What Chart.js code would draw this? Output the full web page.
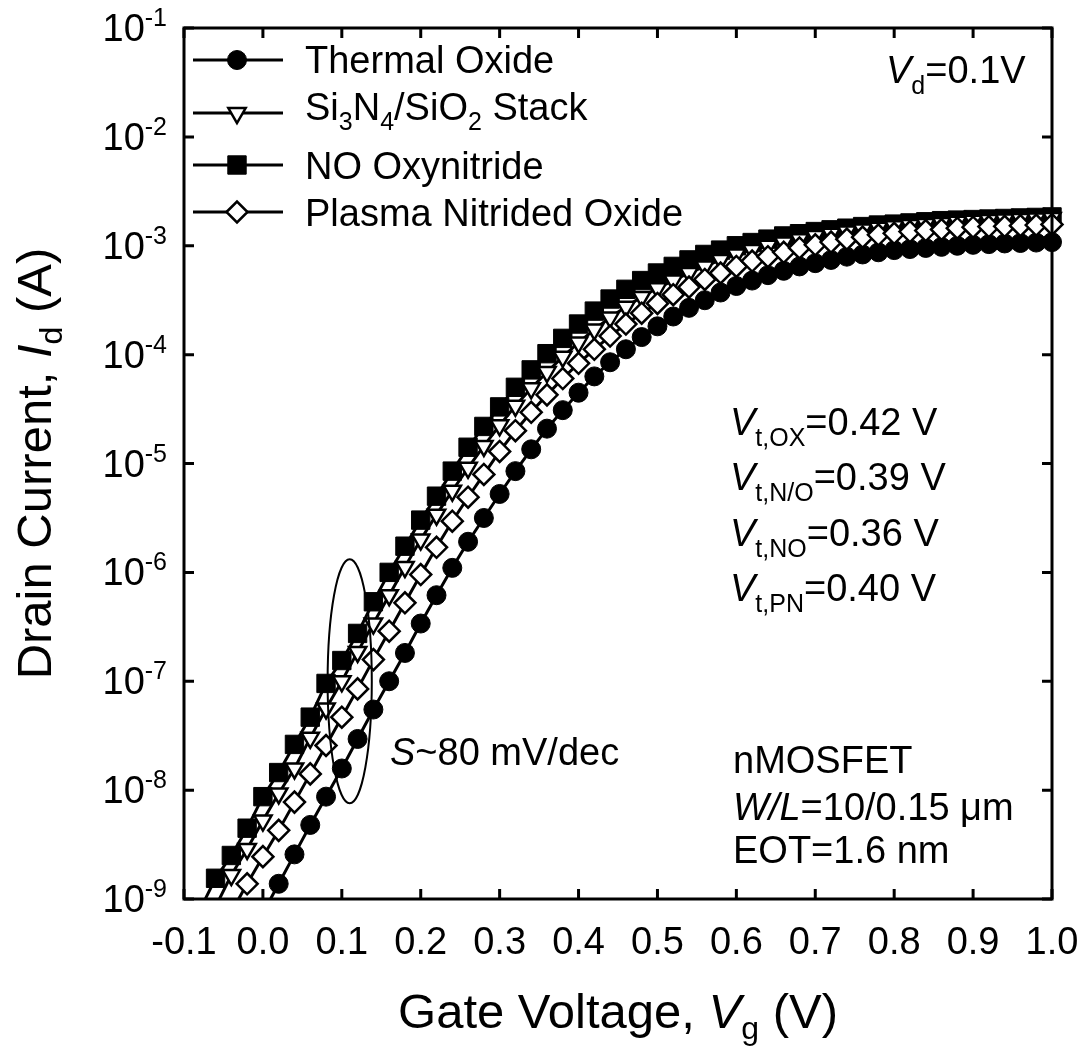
<!DOCTYPE html>
<html>
<head>
<meta charset="utf-8">
<script src="https://cdn.jsdelivr.net/npm/chart.js@4.4.1/dist/chart.umd.min.js"></script>
<style>
html,body{margin:0;padding:0;background:#fff;}
#wrap{width:1087px;height:1053px;position:relative;background:#fff;}
</style>
</head>
<body>
<div id="wrap"><canvas id="c" width="1087" height="1053"></canvas></div>
<script>
// ---------------- data ----------------
const gateVoltage = [-0.08,-0.06,-0.04,-0.02,0.00,0.02,0.04,0.06,0.08,0.10,0.12,0.14,0.16,0.18,0.20,0.22,0.24,0.26,0.28,0.30,
  0.32,0.34,0.36,0.38,0.40,0.42,0.44,0.46,0.48,0.50,0.52,0.54,0.56,0.58,0.60,0.62,0.64,0.66,0.68,0.70,
  0.72,0.74,0.76,0.78,0.80,0.82,0.84,0.86,0.88,0.90,0.92,0.94,0.96,0.98,1.00];

const idThermal = [null,null,null,null,
  7.4e-10,1.38e-9,2.57e-9,4.79e-9,8.71e-9,1.58e-8,2.95e-8,5.50e-8,1.00e-7,1.82e-7,
  3.39e-7,6.17e-7,1.10e-6,1.91e-6,3.16e-6,5.25e-6,8.51e-6,1.35e-5,2.09e-5,3.09e-5,
  4.47e-5,6.31e-5,8.51e-5,1.12e-4,1.45e-4,1.82e-4,2.24e-4,2.69e-4,3.16e-4,3.72e-4,
  4.27e-4,4.79e-4,5.37e-4,5.89e-4,6.46e-4,6.92e-4,7.41e-4,7.94e-4,8.32e-4,8.71e-4,
  9.12e-4,9.33e-4,9.55e-4,9.77e-4,1.00e-3,1.02e-3,1.035e-3,1.05e-3,1.06e-3,1.07e-3,1.08e-3];

const idStack = [null,
  8.5e-10,1.66e-9,2.88e-9,5.25e-9,9.33e-9,1.58e-8,3.02e-8,5.62e-8,1.00e-7,1.86e-7,
  3.39e-7,6.17e-7,1.12e-6,2.00e-6,3.39e-6,5.62e-6,9.12e-6,1.45e-5,2.24e-5,3.39e-5,
  4.90e-5,6.92e-5,9.55e-5,1.29e-4,1.70e-4,2.19e-4,2.75e-4,3.39e-4,4.07e-4,4.79e-4,
  5.62e-4,6.46e-4,7.41e-4,8.32e-4,9.12e-4,1.00e-3,1.07e-3,1.15e-3,1.23e-3,1.29e-3,
  1.35e-3,1.41e-3,1.46e-3,1.51e-3,1.55e-3,1.58e-3,1.62e-3,1.66e-3,1.70e-3,1.72e-3,
  1.74e-3,1.76e-3,1.78e-3,1.80e-3];

const idNO = [
  7.9e-10,1.55e-9,2.51e-9,4.47e-9,8.71e-9,1.45e-8,2.63e-8,4.68e-8,9.55e-8,1.55e-7,
  2.75e-7,5.37e-7,1.00e-6,1.74e-6,3.02e-6,5.01e-6,8.51e-6,1.41e-5,2.19e-5,3.31e-5,
  5.01e-5,7.24e-5,1.02e-4,1.41e-4,1.91e-4,2.51e-4,3.24e-4,3.98e-4,4.79e-4,5.62e-4,
  6.46e-4,7.41e-4,8.32e-4,9.12e-4,1.00e-3,1.07e-3,1.15e-3,1.23e-3,1.29e-3,1.35e-3,
  1.40e-3,1.45e-3,1.50e-3,1.55e-3,1.58e-3,1.62e-3,1.66e-3,1.70e-3,1.72e-3,1.74e-3,
  1.76e-3,1.78e-3,1.80e-3,1.82e-3,1.84e-3];

const idPlasma = [null,null,
  7.6e-10,1.38e-9,2.45e-9,4.27e-9,7.76e-9,1.41e-8,2.57e-8,4.68e-8,8.51e-8,1.58e-7,
  2.88e-7,5.25e-7,9.55e-7,1.70e-6,2.95e-6,4.90e-6,7.94e-6,1.29e-5,2.00e-5,2.95e-5,
  4.27e-5,6.03e-5,8.32e-5,1.12e-4,1.48e-4,1.91e-4,2.40e-4,2.95e-4,3.55e-4,4.17e-4,
  4.90e-4,5.62e-4,6.46e-4,7.24e-4,7.94e-4,8.71e-4,9.55e-4,1.02e-3,1.08e-3,1.15e-3,
  1.20e-3,1.26e-3,1.30e-3,1.35e-3,1.38e-3,1.41e-3,1.45e-3,1.48e-3,1.50e-3,1.51e-3,
  1.53e-3,1.55e-3,1.57e-3];

const xTickValues = [-0.1,0.0,0.1,0.2,0.3,0.4,0.5,0.6,0.7,0.8,0.9,1.0];
const xTickLabels = ['-0.1','0.0','0.1','0.2','0.3','0.4','0.5','0.6','0.7','0.8','0.9','1.0'];
const yTickValues = [1e-1,1e-2,1e-3,1e-4,1e-5,1e-6,1e-7,1e-8,1e-9];
const yTickExponents = ['-1','-2','-3','-4','-5','-6','-7','-8','-9'];

const seriesNames = ['Thermal Oxide','Si3N4/SiO2 Stack','NO Oxynitride','Plasma Nitrided Oxide'];
const vtLabels = [['t,OX','=0.42 V'],['t,N/O','=0.39 V'],['t,NO','=0.36 V'],['t,PN','=0.40 V']];

// ---------------- chart ----------------
const FF = '"Liberation Sans", Arial, Helvetica, sans-serif';
function pts(arr){ return gateVoltage.map((v,i)=>({x:v,y:arr[i]})).filter(p=>p.y!==null); }

const styles = {
  thermal: {pointStyle:'circle', pointRadius:9.5, pointRotation:0, pointBackgroundColor:'#000', pointBorderWidth:1},
  stack:   {pointStyle:'triangle', pointRadius:10, pointRotation:180, pointBackgroundColor:'#fff', pointBorderWidth:2.5},
  no:      {pointStyle:'rect', pointRadius:13, pointRotation:0, pointBackgroundColor:'#000', pointBorderWidth:1},
  plasma:  {pointStyle:'rectRot', pointRadius:10.5, pointRotation:0, pointBackgroundColor:'#fff', pointBorderWidth:2.5}
};
function ds(label, arr, st, order){
  return Object.assign({
    label, data: pts(arr), showLine:true, borderColor:'#000', borderWidth:3,
    pointBorderColor:'#000', order, clip:{left:0, top:false, right:false, bottom:0}
  }, st);
}

const decor = {
  id:'decor',
  afterDraw(chart){
    const ctx = chart.ctx, a = chart.chartArea, xs = chart.scales.x, ys = chart.scales.y;
    ctx.save();
    ctx.strokeStyle='#000'; ctx.fillStyle='#000'; ctx.lineCap='butt';
    // frame
    ctx.lineWidth=3;
    ctx.strokeRect(a.left, a.top, a.right-a.left, a.bottom-a.top);
    // ticks (inward, mirrored)
    const TL=10;
    ctx.beginPath();
    xTickValues.forEach(v=>{ const px=xs.getPixelForValue(v);
      ctx.moveTo(px,a.bottom); ctx.lineTo(px,a.bottom-TL);
      ctx.moveTo(px,a.top); ctx.lineTo(px,a.top+TL); });
    yTickValues.forEach(v=>{ const py=ys.getPixelForValue(v);
      ctx.moveTo(a.left,py); ctx.lineTo(a.left+TL,py);
      ctx.moveTo(a.right,py); ctx.lineTo(a.right-TL,py); });
    ctx.stroke();
    // x tick labels
    ctx.font='38px '+FF; ctx.textAlign='center'; ctx.textBaseline='alphabetic';
    xTickValues.forEach((v,i)=>{ ctx.fillText(xTickLabels[i], xs.getPixelForValue(v), 954); });
    // y tick labels 10^-n
    yTickValues.forEach((v,i)=>{
      const py=ys.getPixelForValue(v);
      ctx.font='25px '+FF; const we=ctx.measureText(yTickExponents[i]).width;
      ctx.font='38px '+FF; const wb=ctx.measureText('10').width;
      const xr=167; ctx.textAlign='left';
      ctx.fillText('10', xr-we-wb, py+13);
      ctx.font='25px '+FF; ctx.fillText(yTickExponents[i], xr-we, py-2);
    });
    // axis titles
    rich(ctx, (a.left+a.right)/2, 1028, [
      {t:'Gate Voltage, ', s:49},{t:'V', s:49, i:true},{t:'g', s:32, dy:11},{t:' (V)', s:49}], 'center');
    ctx.save(); ctx.translate(51,(a.top+a.bottom)/2); ctx.rotate(-Math.PI/2);
    rich(ctx, 0, 0, [{t:'Drain Current, ', s:49},{t:'I', s:49, i:true},{t:'d', s:32, dy:11},{t:' (A)', s:49}], 'center');
    ctx.restore();
    // legend
    const legY=[60,113,165,212], legBase=[73,120,179,226];
    const legStyles=[styles.thermal, styles.stack, styles.no, styles.plasma];
    legY.forEach((y,i)=>{
      ctx.lineWidth=3; ctx.beginPath(); ctx.moveTo(193,y); ctx.lineTo(283,y); ctx.stroke();
      const st=legStyles[i];
      ctx.fillStyle=st.pointBackgroundColor; ctx.strokeStyle='#000'; ctx.lineWidth=st.pointBorderWidth;
      Chart.helpers.drawPoint(ctx,{pointStyle:st.pointStyle, radius:st.pointRadius, rotation:st.pointRotation, borderWidth:st.pointBorderWidth},237,y);
      ctx.fillStyle='#000';
    });
    rich(ctx,305,legBase[0],[{t:'Thermal Oxide',s:38}]);
    rich(ctx,305,legBase[1],[{t:'Si',s:38},{t:'3',s:25,dy:10},{t:'N',s:38},{t:'4',s:25,dy:10},{t:'/SiO',s:38},{t:'2',s:25,dy:10},{t:' Stack',s:38}]);
    rich(ctx,305,legBase[2],[{t:'NO Oxynitride',s:38}]);
    rich(ctx,305,legBase[3],[{t:'Plasma Nitrided Oxide',s:38}]);
    // Vd
    rich(ctx,886,83,[{t:'V',s:38,i:true},{t:'d',s:25,dy:11},{t:'=0.1V',s:38}]);
    // Vt list
    const vtBase=[435,490,546,601];
    vtLabels.forEach((p,i)=>{ rich(ctx,730,vtBase[i],[{t:'V',s:38,i:true},{t:p[0],s:25,dy:11},{t:p[1],s:38}]); });
    // S ~ 80 mV/dec
    rich(ctx,390,765,[{t:'S',s:38,i:true},{t:'~80 mV/dec',s:38}]);
    // device info
    rich(ctx,733,773,[{t:'nMOSFET',s:38}]);
    rich(ctx,733,820,[{t:'W/L',s:38,i:true},{t:'=10/0.15 \u03bcm',s:38}]);
    rich(ctx,733,863,[{t:'EOT=1.6 nm',s:38}]);
    // ellipse around subthreshold region
    const ex=xs.getPixelForValue(0.11), ey=ys.getPixelForValue(1e-7);
    const ery=(ys.getPixelForValue(1e-8)-ys.getPixelForValue(1e-7))*1.12;
    const erx=(xs.getPixelForValue(0.1)-xs.getPixelForValue(0.0))*0.28;
    ctx.lineWidth=2; ctx.strokeStyle='#000';
    ctx.beginPath(); ctx.ellipse(ex,ey,erx,ery,0,0,Math.PI*2); ctx.stroke();
    ctx.restore();
  }
};

function rich(ctx,x,y,segs,align){
  let w=0;
  segs.forEach(s=>{ ctx.font=(s.i?'italic ':'')+s.s+'px '+FF; s.w=ctx.measureText(s.t).width; w+=s.w; });
  let cx = align==='center' ? x-w/2 : (align==='right' ? x-w : x);
  ctx.textAlign='left'; ctx.textBaseline='alphabetic'; ctx.fillStyle='#000';
  segs.forEach(s=>{ ctx.font=(s.i?'italic ':'')+s.s+'px '+FF; ctx.fillText(s.t,cx,y+(s.dy||0)); cx+=s.w; });
}

new Chart(document.getElementById('c'), {
  type:'scatter',
  data:{ datasets:[
    ds(seriesNames[3], idPlasma, styles.plasma, 1),
    ds(seriesNames[1], idStack, styles.stack, 2),
    ds(seriesNames[2], idNO, styles.no, 3),
    ds(seriesNames[0], idThermal, styles.thermal, 4)
  ]},
  options:{
    responsive:false, animation:false, devicePixelRatio:1,
    layout:{padding:{left:184, top:28, right:35, bottom:154}},
    plugins:{legend:{display:false}, tooltip:{enabled:false}},
    elements:{line:{tension:0}},
    scales:{
      x:{type:'linear', min:-0.1, max:1.0, display:false},
      y:{type:'logarithmic', min:1e-9, max:1e-1, display:false}
    }
  },
  plugins:[decor]
});
</script>
</body>
</html>
